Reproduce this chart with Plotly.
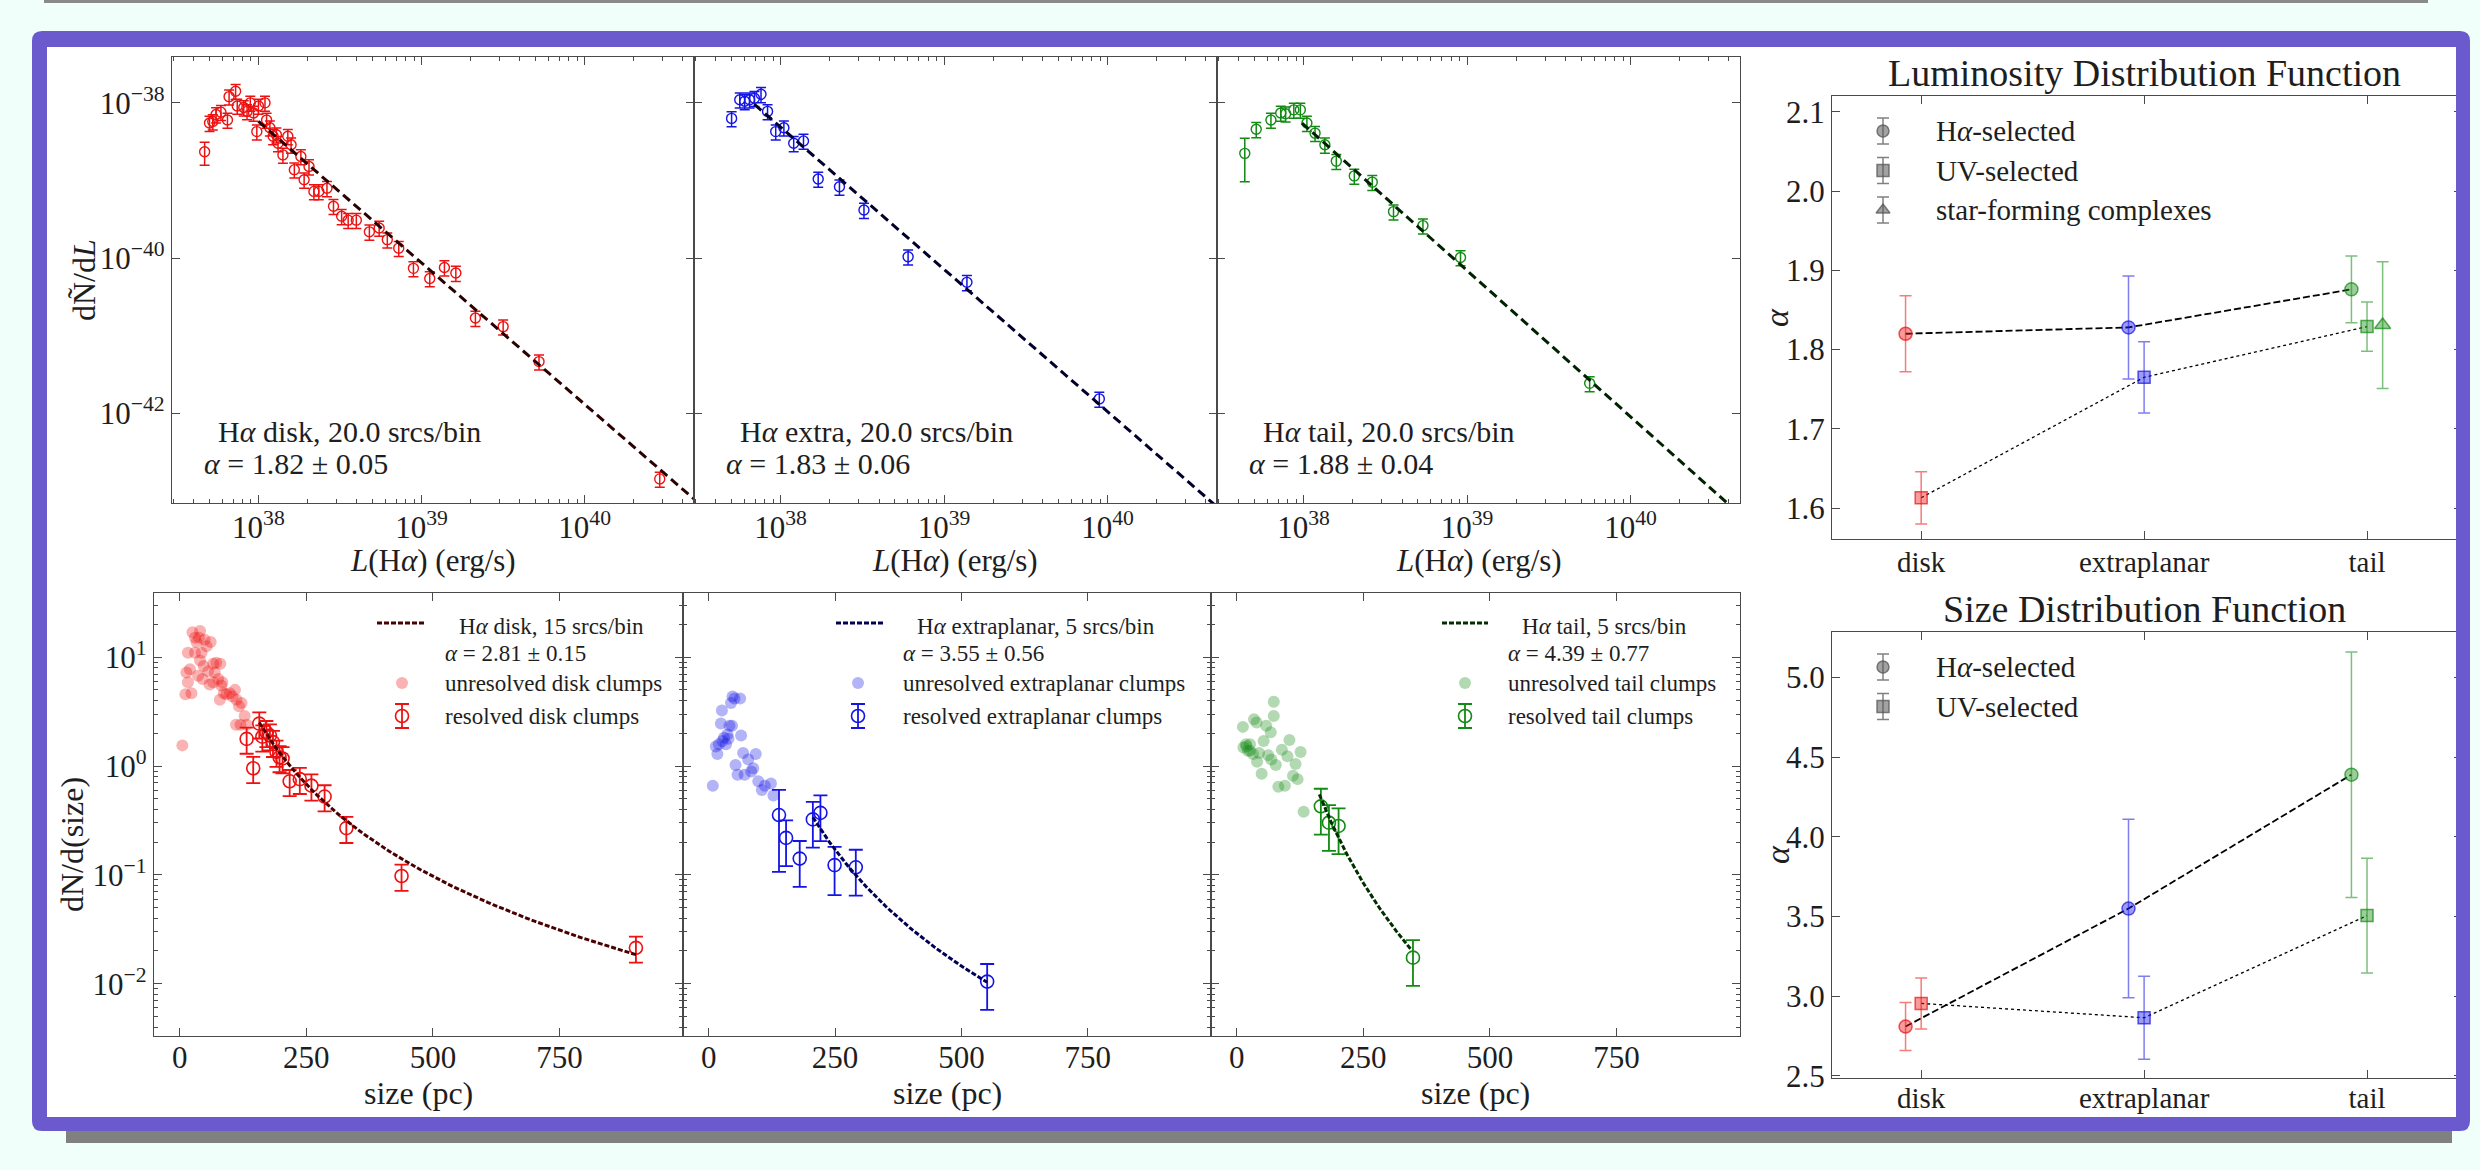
import numpy as np
import plotly.graph_objects as go

W, H = 2480, 1170
FONT = "Liberation Serif"
TXT = "#1e1e1e"
AX = "#4a4a4a"

# ======================= DATA =======================
# --- top row: H-alpha luminosity distribution (log10 L [erg/s], log10 dN/dL) ---
disk_logL = [37.67, 37.70, 37.72, 37.74, 37.77, 37.81, 37.82, 37.86, 37.87, 37.91, 37.93, 37.95,
             37.97, 37.99, 38.00, 38.04, 38.05, 38.07, 38.09, 38.11, 38.12, 38.15, 38.18, 38.20,
             38.22, 38.26, 38.28, 38.31, 38.34, 38.37, 38.42, 38.46, 38.51, 38.55, 38.60, 38.68,
             38.74, 38.79, 38.86, 38.95, 39.05, 39.14, 39.21, 39.33, 39.50, 39.72, 40.46]
disk_logN = [-38.63, -38.26, -38.24, -38.15, -38.12, -38.22, -37.92, -37.85, -38.04, -38.06, -38.11, -38.00,
             -38.13, -38.37, -38.04, -38.00, -38.22, -38.32, -38.43, -38.41, -38.52, -38.67, -38.43, -38.54,
             -38.86, -38.69, -38.99, -38.82, -39.14, -39.14, -39.10, -39.33, -39.46, -39.51, -39.51, -39.66,
             -39.61, -39.76, -39.87, -40.13, -40.26, -40.12, -40.19, -40.77, -40.88, -41.33, -42.84]
disk_frac = [0.33] + [0.22] * 46

extra_logL = [37.70, 37.75, 37.78, 37.81, 37.84, 37.88, 37.92, 37.97, 38.02, 38.08, 38.14, 38.23,
              38.36, 38.51, 38.78, 39.14, 39.95]
extra_logN = [-38.20, -37.96, -37.98, -37.96, -37.94, -37.89, -38.11, -38.37, -38.32, -38.52, -38.49, -38.98,
              -39.08, -39.38, -39.98, -40.31, -41.81]
extra_frac = [0.22] * 17

tail_logL = [37.64, 37.71, 37.80, 37.86, 37.89, 37.94, 37.98, 38.02, 38.07, 38.13, 38.20, 38.31,
             38.42, 38.55, 38.73, 38.96, 39.75]
tail_logN = [-38.65, -38.34, -38.22, -38.13, -38.14, -38.09, -38.09, -38.26, -38.39, -38.54, -38.75, -38.94,
             -39.02, -39.40, -39.58, -39.99, -41.61]
tail_frac = [0.57] + [0.22] * 16

lum_names = ["disk", "extra", "tail"]
lum_srcs = [20.0, 20.0, 20.0]
lum_alpha = [1.82, 1.83, 1.88]
lum_alpha_err = [0.05, 0.06, 0.04]
lum_fit_start_logL = [38.00, 37.84, 37.99]
lum_fit_start_logN = [-38.24, -38.02, -38.26]
lum_fit_end_logL = 40.9

# --- bottom row: size distribution (size [pc], log10 dN/d(size)) ---
disk_unres_size = [5, 11, 13, 16, 16, 25, 30, 33, 38, 40, 43, 47, 53, 56, 59, 61, 66, 69, 72, 76, 79,
                   82, 87, 92, 99, 104, 109, 112, 117, 120, 128, 132, 111, 30, 20, 36, 45, 66, 40, 49,
                   23, 80, 122, 84]
disk_unres_logN = [0.19, 0.66, 0.86, 0.77, 1.04, 1.23, 1.04, 1.14, 1.18, 0.97, 1.04, 0.92, 1.10, 0.87,
                   0.75, 1.14, 0.94, 0.86, 0.95, 0.80, 0.61, 0.74, 0.67, 0.66, 0.67, 0.64, 0.70, 0.61,
                   0.55, 0.38, 0.46, 0.38, 0.38, 1.18, 0.89, 0.83, 0.80, 0.77, 1.24, 1.16, 0.67, 0.94,
                   0.58, 0.77]
disk_res_size = [132, 145, 157, 163, 171, 178, 184, 191, 197, 203, 217, 237, 260, 286, 329, 438, 901]
disk_res_logN = [0.25, -0.02, 0.39, 0.27, 0.31, 0.28, 0.22, 0.13, 0.08, 0.07, -0.14, -0.12, -0.18,
                 -0.28, -0.57, -1.01, -1.67]
disk_res_frac = [0.27] * 17

extra_unres_size = [8, 14, 17, 20, 24, 26, 27, 30, 34, 37, 41, 44, 47, 51, 53, 57, 62, 64, 68, 71, 78,
                    84, 88, 93, 98, 105, 111, 123, 128, 46, 39]
extra_unres_logN = [-0.18, 0.18, 0.11, 0.20, 0.39, 0.51, 0.23, 0.26, 0.20, 0.29, 0.37, 0.58, 0.64, 0.62,
                    0.01, -0.08, 0.62, 0.28, 0.12, -0.08, 0.06, -0.05, -0.02, 0.11, -0.14, -0.22, -0.18,
                    -0.16, -0.27, 0.37, 0.25]
extra_res_size = [139, 153, 180, 206, 221, 249, 291, 551]
extra_res_logN = [-0.45, -0.66, -0.85, -0.49, -0.43, -0.91, -0.93, -1.98]
extra_res_frac = [0.70, 0.45, 0.45, 0.45, 0.45, 0.47, 0.45, 0.45]

tail_unres_size = [12, 13, 18, 22, 26, 32, 34, 39, 40, 44, 49, 53, 58, 62, 67, 68, 73, 73, 77, 82, 89,
                   95, 100, 104, 111, 116, 120, 126, 132, 19, 26]
tail_unres_logN = [0.36, 0.17, 0.20, 0.14, 0.20, 0.11, 0.43, 0.40, 0.04, 0.12, -0.07, 0.23, 0.37, 0.10,
                   0.31, 0.06, 0.46, 0.59, 0.01, -0.19, 0.15, -0.18, 0.09, 0.24, -0.09, 0.02, -0.12,
                   0.13, -0.42, 0.18, 0.14]
tail_res_size = [166, 182, 201, 348]
tail_res_logN = [-0.37, -0.52, -0.55, -1.76]
tail_res_frac = [0.45, 0.45, 0.45, 0.45]

size_label_names = ["disk", "extraplanar", "tail"]
size_srcs = [15, 5, 5]
size_alpha = [2.81, 3.55, 4.39]
size_alpha_err = [0.15, 0.56, 0.77]
size_fit_start = [157, 206, 163]
size_fit_start_logN = [0.40, -0.47, -0.26]
size_fit_end = [901, 551, 345]

# --- right column: slopes per region ---
regions = ["disk", "extraplanar", "tail"]
ldf_ha = [1.820, 1.828, 1.876]
ldf_ha_err = [0.048, 0.065, 0.042]
ldf_uv = [1.613, 1.765, 1.829]
ldf_uv_err = [0.033, 0.045, 0.031]
ldf_sfc_tail = 1.831
ldf_sfc_tail_err = 0.080
sdf_ha = [2.81, 3.55, 4.39]
sdf_ha_err = [0.15, 0.56, 0.77]
sdf_uv = [2.955, 2.865, 3.506]
sdf_uv_err = [0.16, 0.26, 0.36]

# ======================= STYLE =======================
COL = ["#ee1111", "#1414e6", "#138a13"]
DARK = ["#2a0000", "#00002a", "#002200"]
DOT_DARK = ["#4a0000", "#000055", "#003000"]
TICK_SIZE = 31


def rgba(hexc, a):
    h = hexc.lstrip("#")
    return f"rgba({int(h[0:2], 16)},{int(h[2:4], 16)},{int(h[4:6], 16)},{a})"


def xdom(l, r):
    return [l / W, r / W]


def ydom(t, b):
    return [1 - b / H, 1 - t / H]


def px(x):
    return x / W


def py(y):
    return 1 - y / H


fig = go.Figure()
layout = {}

base = dict(showline=True, linecolor=AX, linewidth=1.3, mirror="allticks", ticks="inside",
            ticklen=8, tickwidth=1.3, tickcolor=AX, showgrid=False, zeroline=False,
            automargin=False,
            tickfont=dict(family=FONT, size=TICK_SIZE, color=TXT))


def axkey(kind, i):
    return f"{kind}axis" if i == 1 else f"{kind}axis{i}"


def ref(kind, i):
    return kind if i == 1 else f"{kind}{i}"


# ---- top row axes ----
top_x = [(172, 694), (694, 1217), (1217, 1740)]
TOP_Y = (57, 503)
minor_L = [k * 10.0 ** n for n in range(37, 41) for k in range(2, 10)
           if 37.47 <= np.log10(k * 10.0 ** n) <= 40.67]
for j, (l, r) in enumerate(top_x):
    i = j + 1
    layout[axkey("x", i)] = dict(base, type="log", range=[37.47, 40.67], domain=xdom(l, r),
                                 anchor=ref("y", i), ticklabelstandoff=-3,
                                 tickvals=[1e38, 1e39, 1e40],
                                 ticktext=["10<sup>38</sup>", "10<sup>39</sup>", "10<sup>40</sup>"],
                                 minor=dict(tickvals=minor_L, ticks="inside", ticklen=4,
                                            tickcolor=AX, tickwidth=1))
    layout[axkey("y", i)] = dict(base, type="log", range=[-43.15, -37.41], domain=ydom(*TOP_Y),
                                 anchor=ref("x", i),
                                 tickvals=[1e-38, 1e-40, 1e-42],
                                 ticktext=["10<sup>\u221238</sup>", "10<sup>\u221240</sup>",
                                           "10<sup>\u221242</sup>"],
                                 showticklabels=(j == 0))

# ---- bottom row axes ----
bot_x = [(154, 683), (683, 1211), (1211, 1740)]
BOT_Y = (593, 1036)
minor_S = [k * 10.0 ** n for n in range(-3, 2) for k in range(2, 10)
           if -2.48 <= np.log10(k * 10.0 ** n) <= 1.59]
for j, (l, r) in enumerate(bot_x):
    i = j + 4
    layout[axkey("x", i)] = dict(base, range=[-51, 994], domain=xdom(l, r), anchor=ref("y", i),
                                 ticklabelstandoff=-6, tickvals=[0, 250, 500, 750])
    layout[axkey("y", i)] = dict(base, type="log", range=[-2.48, 1.59], domain=ydom(*BOT_Y),
                                 anchor=ref("x", i),
                                 tickvals=[10, 1, 0.1, 0.01],
                                 ticktext=["10<sup>1</sup>", "10<sup>0</sup>", "10<sup>\u22121</sup>",
                                           "10<sup>\u22122</sup>"],
                                 showticklabels=(j == 0),
                                 minor=dict(tickvals=minor_S, ticks="inside", ticklen=4,
                                            tickcolor=AX, tickwidth=1))

# ---- right column axes ----
RX = (1832, 2462)
RIGHT_X_FONT = dict(family=FONT, size=29, color=TXT)
layout[axkey("x", 7)] = dict(base, range=[-0.4, 2.426], domain=xdom(*RX), anchor="y7",
                             ticklabelstandoff=-3,
                             tickvals=[0, 1, 2], ticktext=regions, tickfont=RIGHT_X_FONT)
layout[axkey("y", 7)] = dict(base, range=[1.561, 2.120], domain=ydom(96, 539), anchor="x7",
                             tickvals=[1.6, 1.7, 1.8, 1.9, 2.0, 2.1], tickformat=".1f")
layout[axkey("x", 8)] = dict(base, range=[-0.4, 2.426], domain=xdom(*RX), anchor="y8",
                             ticklabelstandoff=-6,
                             tickvals=[0, 1, 2], ticktext=regions, tickfont=RIGHT_X_FONT)
layout[axkey("y", 8)] = dict(base, range=[2.487, 5.285], domain=ydom(632, 1078), anchor="x8",
                             tickvals=[2.5, 3.0, 3.5, 4.0, 4.5, 5.0], tickformat=".1f")

# ---- overlay (pixel) axis for legend symbols ----
layout["xaxis9"] = dict(domain=[0, 1], range=[0, W], visible=False, anchor="y9", fixedrange=True)
layout["yaxis9"] = dict(domain=[0, 1], range=[H, 0], visible=False, anchor="x9", fixedrange=True)

# ======================= TRACES =======================
lum_data = [(disk_logL, disk_logN, disk_frac), (extra_logL, extra_logN, extra_frac),
            (tail_logL, tail_logN, tail_frac)]
for j, (lx, ly, fr) in enumerate(lum_data):
    i = j + 1
    xv = 10.0 ** np.array(lx)
    yv = 10.0 ** np.array(ly)
    fig.add_trace(go.Scatter(x=xv, y=yv, mode="markers", xaxis=ref("x", i), yaxis=ref("y", i),
                             marker=dict(symbol="circle-open", size=10, color=COL[j],
                                         line=dict(width=1.4, color=COL[j])),
                             error_y=dict(type="data", array=yv * np.array(fr), visible=True,
                                          color=COL[j], thickness=1.5, width=5),
                             showlegend=False))
    x0 = lum_fit_start_logL[j]
    fx = np.array([x0, lum_fit_end_logL])
    fy = lum_fit_start_logN[j] - lum_alpha[j] * (fx - x0)
    fig.add_trace(go.Scatter(x=10.0 ** fx, y=10.0 ** fy, mode="lines", xaxis=ref("x", i),
                             yaxis=ref("y", i), line=dict(color=DARK[j], width=3, dash="9px,5px"),
                             showlegend=False))

size_data = [(disk_unres_size, disk_unres_logN, disk_res_size, disk_res_logN, disk_res_frac),
             (extra_unres_size, extra_unres_logN, extra_res_size, extra_res_logN, extra_res_frac),
             (tail_unres_size, tail_unres_logN, tail_res_size, tail_res_logN, tail_res_frac)]
for j, (us, un, rs, rn, rf) in enumerate(size_data):
    i = j + 4
    fig.add_trace(go.Scatter(x=us, y=10.0 ** np.array(un), mode="markers", xaxis=ref("x", i),
                             yaxis=ref("y", i),
                             marker=dict(symbol="circle", size=12, color=rgba(COL[j], 0.32),
                                         line=dict(width=0)),
                             showlegend=False))
    ry = 10.0 ** np.array(rn)
    fig.add_trace(go.Scatter(x=rs, y=ry, mode="markers", xaxis=ref("x", i), yaxis=ref("y", i),
                             marker=dict(symbol="circle-open", size=13, color=COL[j],
                                         line=dict(width=1.6, color=COL[j])),
                             error_y=dict(type="data", array=ry * np.array(rf), visible=True,
                                          color=COL[j], thickness=1.8, width=7),
                             showlegend=False))
    sx = np.linspace(size_fit_start[j], size_fit_end[j], 80)
    sy = 10.0 ** size_fit_start_logN[j] * (sx / size_fit_start[j]) ** (-size_alpha[j])
    fig.add_trace(go.Scatter(x=sx, y=sy, mode="lines", xaxis=ref("x", i), yaxis=ref("y", i),
                             line=dict(color=DOT_DARK[j], width=3, dash="5px,2px"),
                             showlegend=False))

OFF_HA, OFF_UV, OFF_SFC = -0.07, 0.0, 0.07
idx = np.arange(len(regions))


def slope_panel(i, ha, ha_err, uv, uv_err):
    fig.add_trace(go.Scatter(x=idx + OFF_HA, y=ha, mode="lines", xaxis=ref("x", i), yaxis=ref("y", i),
                             line=dict(color="black", width=1.8, dash="7px,3px"), showlegend=False))
    fig.add_trace(go.Scatter(x=idx + OFF_UV, y=uv, mode="lines", xaxis=ref("x", i), yaxis=ref("y", i),
                             line=dict(color="black", width=1.3, dash="dot"), showlegend=False))
    for k in range(len(regions)):
        c = COL[k]
        fig.add_trace(go.Scatter(x=[k + OFF_HA], y=[ha[k]], mode="markers", xaxis=ref("x", i),
                                 yaxis=ref("y", i),
                                 marker=dict(symbol="circle", size=13, color=rgba(c, 0.42),
                                             line=dict(width=1.5, color=rgba(c, 0.7))),
                                 error_y=dict(type="data", array=[ha_err[k]], visible=True,
                                              color=rgba(c, 0.55), thickness=1.5, width=6),
                                 showlegend=False))
        fig.add_trace(go.Scatter(x=[k + OFF_UV], y=[uv[k]], mode="markers", xaxis=ref("x", i),
                                 yaxis=ref("y", i),
                                 marker=dict(symbol="square", size=12, color=rgba(c, 0.42),
                                             line=dict(width=1.5, color=rgba(c, 0.7))),
                                 error_y=dict(type="data", array=[uv_err[k]], visible=True,
                                              color=rgba(c, 0.55), thickness=1.5, width=6),
                                 showlegend=False))


slope_panel(7, ldf_ha, ldf_ha_err, ldf_uv, ldf_uv_err)
fig.add_trace(go.Scatter(x=[2 + OFF_SFC], y=[ldf_sfc_tail], mode="markers", xaxis="x7", yaxis="y7",
                         marker=dict(symbol="triangle-up", size=14, color=rgba(COL[2], 0.42),
                                     line=dict(width=1.5, color=rgba(COL[2], 0.7))),
                         error_y=dict(type="data", array=[ldf_sfc_tail_err], visible=True,
                                      color=rgba(COL[2], 0.55), thickness=1.5, width=6),
                         showlegend=False))
slope_panel(8, sdf_ha, sdf_ha_err, sdf_uv, sdf_uv_err)

# ======================= LEGENDS / TEXT =======================
ann = []


def text(x, y, s, size=28, xanchor="left", angle=0):
    ann.append(dict(x=px(x), y=py(y), xref="paper", yref="paper", text=s, showarrow=False,
                    xanchor=xanchor, yanchor="middle", textangle=angle,
                    font=dict(family=FONT, size=size, color=TXT)))


# top panel annotations
for j, (l, r) in enumerate(top_x):
    text(l + 44, 431, f"H<i>\u03b1</i> {lum_names[j]}, {lum_srcs[j]:.1f} srcs/bin", size=30)
    text(l + 30, 464, f"<i>\u03b1</i> = {lum_alpha[j]:.2f} \u00b1 {lum_alpha_err[j]:.2f}", size=30)
    text((l + r) / 2, 560, "<i>L</i>(H<i>\u03b1</i>) (erg/s)", size=31, xanchor="center")

text(84, 280, "d\u00d1/d<i>L</i>", size=32, xanchor="center", angle=-90)
text(72, 845, "dN/d(size)", size=32, xanchor="center", angle=-90)

# bottom legends
leg_marker_x = [402, 858, 1465]
leg_text_x = [443, 901, 1506]
leg_line = [(377, 425), (836, 883), (1442, 1488)]
LEG_Y = [623, 653, 683, 716]
for j, (l, r) in enumerate(bot_x):
    text((l + r) / 2, 1093, "size (pc)", size=32, xanchor="center")
    tx = leg_text_x[j]
    text(tx + 14, LEG_Y[0] + 3, f"H<i>\u03b1</i> {size_label_names[j]}, {size_srcs[j]} srcs/bin", size=23)
    text(tx, LEG_Y[1], f"<i>\u03b1</i> = {size_alpha[j]:.2f} \u00b1 {size_alpha_err[j]:.2f}", size=23)
    text(tx, LEG_Y[2], f"unresolved {size_label_names[j]} clumps", size=23)
    text(tx, LEG_Y[3], f"resolved {size_label_names[j]} clumps", size=23)
    fig.add_trace(go.Scatter(x=list(leg_line[j]), y=[LEG_Y[0], LEG_Y[0]], mode="lines", xaxis="x9",
                             yaxis="y9", line=dict(color=DOT_DARK[j], width=3, dash="5px,2px"),
                             showlegend=False))
    fig.add_trace(go.Scatter(x=[leg_marker_x[j]], y=[LEG_Y[2]], mode="markers", xaxis="x9", yaxis="y9",
                             marker=dict(symbol="circle", size=12, color=rgba(COL[j], 0.32),
                                         line=dict(width=0)), showlegend=False))
    fig.add_trace(go.Scatter(x=[leg_marker_x[j]], y=[LEG_Y[3]], mode="markers", xaxis="x9", yaxis="y9",
                             marker=dict(symbol="circle-open", size=13, color=COL[j],
                                         line=dict(width=1.6, color=COL[j])),
                             error_y=dict(type="data", array=[12], visible=True, color=COL[j],
                                          thickness=1.8, width=7),
                             showlegend=False))

# right-column titles, labels and legends
text(2144, 73, "Luminosity Distribution Function", size=38, xanchor="center")
text(2144, 609, "Size Distribution Function", size=38, xanchor="center")
text(1777, 318, "<i>\u03b1</i>", size=34, xanchor="center", angle=-90)
text(1777, 855, "<i>\u03b1</i>", size=34, xanchor="center", angle=-90)

GRAY_F = "rgba(85,85,85,0.55)"
GRAY_L = "rgba(85,85,85,0.75)"
leg_items = [("circle", "H<i>\u03b1</i>-selected"), ("square", "UV-selected"),
             ("triangle-up", "star-forming complexes")]
for top, n in ((96, 3), (632, 2)):
    for m in range(n):
        yy = top + 35 + 39.5 * m
        sym, lab = leg_items[m]
        fig.add_trace(go.Scatter(x=[1883], y=[yy], mode="markers", xaxis="x9", yaxis="y9",
                                 marker=dict(symbol=sym, size=12, color=GRAY_F,
                                             line=dict(width=1.5, color=GRAY_L)),
                                 error_y=dict(type="data", array=[13], visible=True, color=GRAY_L,
                                              thickness=1.5, width=6),
                                 showlegend=False))
        text(1934, yy, lab, size=29)


# ======================= FRAME SHAPES =======================
def P(x, y):
    return f"{px(x):.6f},{py(y):.6f}"


x0, x1, y0, y1, rr = 32, 2470, 31, 1131, 10
frame_path = (f"M{P(x0 + rr, y0)} L{P(x1 - rr, y0)} Q{P(x1, y0)} {P(x1, y0 + rr)} "
              f"L{P(x1, y1 - rr)} Q{P(x1, y1)} {P(x1 - rr, y1)} L{P(x0 + rr, y1)} "
              f"Q{P(x0, y1)} {P(x0, y1 - rr)} L{P(x0, y0 + rr)} Q{P(x0, y0)} {P(x0 + rr, y0)} Z "
              f"M{P(47, 47)} L{P(2456, 47)} L{P(2456, 1117)} L{P(47, 1117)} Z")

shapes = [
    dict(type="rect", xref="paper", yref="paper", x0=px(44), x1=px(2428), y0=py(0), y1=py(3),
         fillcolor="#8a8a8a", line=dict(width=0), layer="below"),
    dict(type="rect", xref="paper", yref="paper", x0=px(66), x1=px(2452), y0=py(60), y1=py(1143),
         fillcolor="#808080", line=dict(width=0), layer="below"),
    dict(type="rect", xref="paper", yref="paper", x0=px(47), x1=px(2456), y0=py(47), y1=py(1117),
         fillcolor="white", line=dict(width=0), layer="below"),
    dict(type="path", xref="paper", yref="paper", path=frame_path, fillcolor="#6a5acd",
         fillrule="evenodd", line=dict(width=0), layer="above"),
]

layout.update(dict(width=W, height=H, margin=dict(l=0, r=0, t=0, b=0),
                   paper_bgcolor="#f0fffa", plot_bgcolor="rgba(0,0,0,0)",
                   showlegend=False, annotations=ann, shapes=shapes,
                   font=dict(family=FONT, color=TXT)))
fig.update_layout(**layout)
fig.write_html("out.html")
